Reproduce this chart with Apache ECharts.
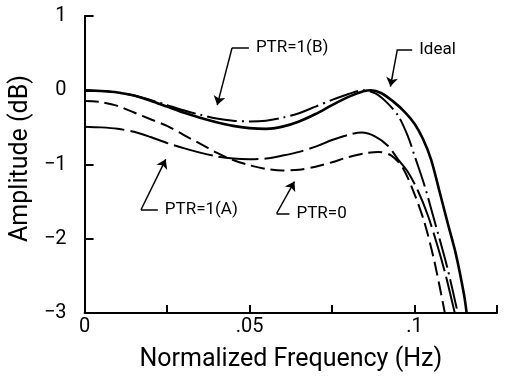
<!DOCTYPE html>
<html>
<head>
<meta charset="utf-8">
<script src="https://cdn.jsdelivr.net/npm/echarts@6/dist/echarts.min.js"></script>
<style>
  html, body { margin: 0; padding: 0; background: #fff; }
  #chart { width: 505px; height: 377px; }
</style>
</head>
<body>
<div id="chart"></div>
<script>
// values: normalized frequency vs amplitude (dB)
const idealFreq = [0, 0.005, 0.01, 0.015, 0.02, 0.025, 0.03, 0.035, 0.04, 0.045, 0.05, 0.055, 0.06, 0.065, 0.07, 0.075, 0.08, 0.0845, 0.0868, 0.09, 0.0935, 0.097, 0.1, 0.1025, 0.105, 0.1075, 0.11, 0.1125, 0.115, 0.1158];
const idealAmp = [0, -0.01, -0.03, -0.07, -0.14, -0.22, -0.30, -0.37, -0.43, -0.48, -0.51, -0.52, -0.49, -0.42, -0.32, -0.20, -0.09, -0.015, 0, -0.04, -0.15, -0.29, -0.45, -0.65, -0.93, -1.35, -1.78, -2.2, -2.75, -3.0];

const ptrBFreq = [0, 0.005, 0.01, 0.015, 0.02, 0.025, 0.03, 0.035, 0.04, 0.045, 0.05, 0.055, 0.06, 0.065, 0.07, 0.075, 0.08, 0.0846, 0.088, 0.0915, 0.095, 0.098, 0.1, 0.103, 0.106, 0.11, 0.1131];
const ptrBAmp = [0, -0.01, -0.03, -0.07, -0.13, -0.2, -0.27, -0.33, -0.38, -0.41, -0.42, -0.41, -0.37, -0.31, -0.22, -0.13, -0.05, 0, -0.04, -0.16, -0.34, -0.62, -0.88, -1.28, -1.75, -2.4, -3.0];

const ptrAFreq = [0, 0.005, 0.01, 0.015, 0.02, 0.025, 0.03, 0.035, 0.04, 0.045, 0.05, 0.055, 0.06, 0.065, 0.07, 0.075, 0.08, 0.084, 0.088, 0.092, 0.095, 0.098, 0.101, 0.104, 0.107, 0.1095, 0.1122];
const ptrAAmp = [-0.49, -0.50, -0.52, -0.56, -0.63, -0.71, -0.78, -0.84, -0.89, -0.92, -0.93, -0.92, -0.88, -0.83, -0.76, -0.67, -0.6, -0.57, -0.62, -0.75, -0.93, -1.1, -1.35, -1.68, -2.1, -2.5, -3.0];

const ptr0Freq = [0, 0.005, 0.01, 0.015, 0.02, 0.025, 0.03, 0.035, 0.04, 0.045, 0.05, 0.055, 0.06, 0.065, 0.07, 0.075, 0.08, 0.085, 0.089, 0.093, 0.0965, 0.1, 0.103, 0.106, 0.1092];
const ptr0Amp = [-0.145, -0.16, -0.21, -0.30, -0.39, -0.48, -0.60, -0.72, -0.84, -0.94, -1.01, -1.06, -1.08, -1.07, -1.03, -0.97, -0.9, -0.85, -0.83, -0.88, -1.05, -1.4, -1.78, -2.3, -3.0];

// axis tick labels
const xTickValues = [0, 0.05, 0.1];
const xTickLabels = ['0', '.05', '.1'];
const yTickValues = [1, 0, -1, -2, -3];
const yTickLabels = ['1', '0', '\u22121', '\u22122', '\u22123'];

// callouts (in data units): label, arrow tip, elbow, end of the short flat stroke
const noteLabels = ['PTR=1(B)', 'Ideal', 'PTR=1(A)', 'PTR=0'];
const noteTips = [[0.0402, -0.2], [0.0927, 0.05], [0.0246, -0.93], [0.0636, -1.23]];
const noteElbows = [[0.0447, 0.57], [0.0948, 0.55], [0.0171, -1.61], [0.0582, -1.66]];
const noteEnds = [[0.0498, 0.57], [0.0993, 0.55], [0.0222, -1.61], [0.0621, -1.66]];

const zip = (xs, ys) => xs.map((x, i) => [x, ys[i]]);
const pick = (vals, labels, v) => {
  const i = vals.findIndex(t => Math.abs(t - v) < 1e-6);
  return i < 0 ? '' : labels[i];
};

const FONT = 'Roboto';
const chart = echarts.init(document.getElementById('chart'));

const curve = (name, xs, ys, width, type) => ({
  name,
  type: 'line',
  data: zip(xs, ys),
  smooth: 0.3,
  showSymbol: false,
  symbol: 'none',
  lineStyle: { color: '#000', width, type },
  z: 3
});

chart.setOption({
  animation: false,
  backgroundColor: '#fff',
  grid: { left: 81, right: 8, top: 16, bottom: 58 },
  xAxis: {
    type: 'value',
    min: 0,
    max: 0.125,
    interval: 0.025,
    name: 'Normalized Frequency (Hz)',
    nameLocation: 'middle',
    nameGap: 34,
    nameTextStyle: { fontFamily: FONT, fontSize: 25, color: '#000' },
    axisLine: { onZero: false, lineStyle: { color: '#000', width: 2 } },
    axisTick: { inside: true, length: 8, lineStyle: { color: '#000', width: 2 } },
    axisLabel: {
      margin: 4,
      fontFamily: FONT,
      fontSize: 20,
      color: '#000',
      formatter: v => pick(xTickValues, xTickLabels, v)
    },
    splitLine: { show: false }
  },
  yAxis: {
    type: 'value',
    min: -3,
    max: 1,
    interval: 1,
    name: 'Amplitude (dB)',
    nameLocation: 'middle',
    nameGap: 47,
    nameTextStyle: { fontFamily: FONT, fontSize: 25, color: '#000', padding: [0, 0, 0, 12] },
    axisLine: { onZero: false, lineStyle: { color: '#000', width: 2 } },
    axisTick: { inside: true, length: 9, lineStyle: { color: '#000', width: 2 } },
    axisLabel: {
      margin: 18,
      fontFamily: FONT,
      fontSize: 20,
      color: '#000',
      formatter: v => pick(yTickValues, yTickLabels, v)
    },
    splitLine: { show: false }
  },
  series: [
    curve('Ideal', idealFreq, idealAmp, 2.6, 'solid'),
    curve('PTR=1(B)', ptrBFreq, ptrBAmp, 2, [30, 5, 2, 5]),
    curve('PTR=1(A)', ptrAFreq, ptrAAmp, 2, [40, 6]),
    curve('PTR=0', ptr0Freq, ptr0Amp, 2, [14, 6]),
    {
      name: 'leaders',
      type: 'lines',
      coordinateSystem: 'cartesian2d',
      symbol: 'none',
      lineStyle: { color: '#000', width: 1.5, opacity: 1 },
      label: {
        show: true,
        position: 'end',
        distance: 7,
        formatter: '{b}',
        fontFamily: FONT,
        fontSize: 17,
        color: '#000'
      },
      data: noteLabels.map((name, i) => ({ name, coords: [noteElbows[i], noteEnds[i]] })),
      z: 4
    },
    {
      name: 'arrows',
      type: 'lines',
      coordinateSystem: 'cartesian2d',
      symbol: ['none', 'arrow'],
      symbolSize: [0, 9],
      lineStyle: { color: '#000', width: 1.5, opacity: 1 },
      data: noteLabels.map((name, i) => ({ name, coords: [noteElbows[i], noteTips[i]] })),
      z: 4
    }
  ]
});
</script>
</body>
</html>
